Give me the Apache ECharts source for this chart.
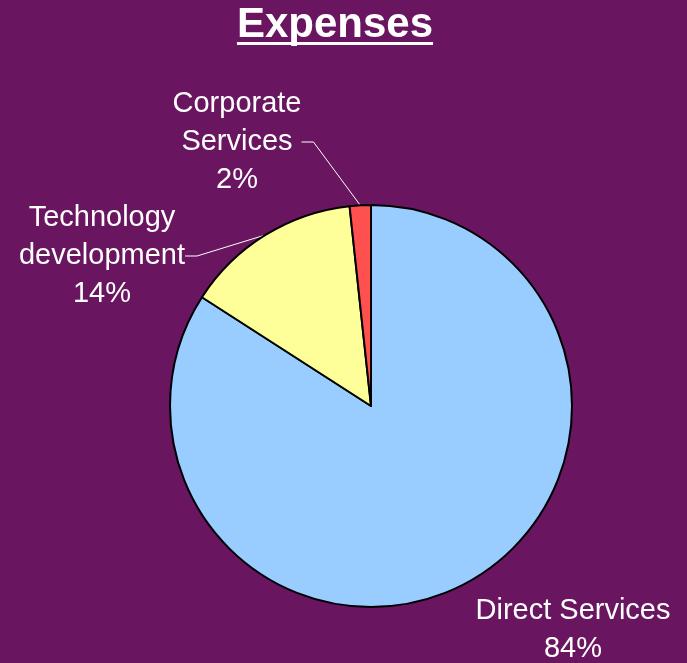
<!DOCTYPE html>
<html>
<head>
<meta charset="utf-8">
<script src="https://cdn.jsdelivr.net/npm/echarts@6/dist/echarts.min.js"></script>
<style>
html,body{margin:0;padding:0;background:#6A1560;}
#chart{width:687px;height:663px;}
</style>
</head>
<body>
<div id="chart"></div>
<script>
const titleText = 'Expenses';
const categories = ['Direct Services', 'Technology\ndevelopment', 'Corporate\nServices'];
const values = [84.1, 14.2, 1.7];
const colors = ['#99CCFF', '#FFFF99', '#FF5050'];
const labelSpots = [[573, 630], [102, 256], [237, 142]];

const FONT = '"Liberation Sans", Arial, sans-serif';
const titleSize = 42;
const titleCenterX = 335;
const ctx = document.createElement('canvas').getContext('2d');
ctx.font = 'bold ' + titleSize + 'px ' + FONT;
const titleW = ctx.measureText(titleText).width;

const chart = echarts.init(document.getElementById('chart'));
chart.setOption({
  backgroundColor: '#6A1560',
  animation: false,
  title: {
    text: titleText,
    left: titleCenterX - titleW / 2,
    top: 4,
    padding: 0,
    textStyle: { color: '#fff', fontSize: titleSize, fontWeight: 'bold', fontFamily: FONT }
  },
  graphic: [{
    type: 'rect',
    shape: { x: titleCenterX - titleW / 2, y: 42, width: titleW, height: 3 },
    style: { fill: '#fff' }
  }],
  series: [{
    type: 'pie',
    center: [371, 406],
    radius: 201,
    startAngle: 90,
    clockwise: true,
    percentPrecision: 0,
    avoidLabelOverlap: false,
    data: categories.map((c, i) => ({
      name: c,
      value: values[i],
      itemStyle: { color: colors[i] },
      labelLine: { show: i !== 0 }
    })),
    itemStyle: { borderColor: '#000', borderWidth: 2 },
    label: {
      show: true,
      position: 'outside',
      formatter: '{b}\n{d}%',
      color: '#fff',
      fontSize: 29,
      lineHeight: 38,
      fontFamily: FONT,
      align: 'center'
    },
    labelLine: { show: true, lineStyle: { color: '#fff', width: 1 }, length: 20, length2: 12 },
    labelLayout: function (p) {
      const s = labelSpots[p.dataIndex];
      return { x: s[0], y: s[1], align: 'center', verticalAlign: 'middle' };
    }
  }]
});
</script>
</body>
</html>
